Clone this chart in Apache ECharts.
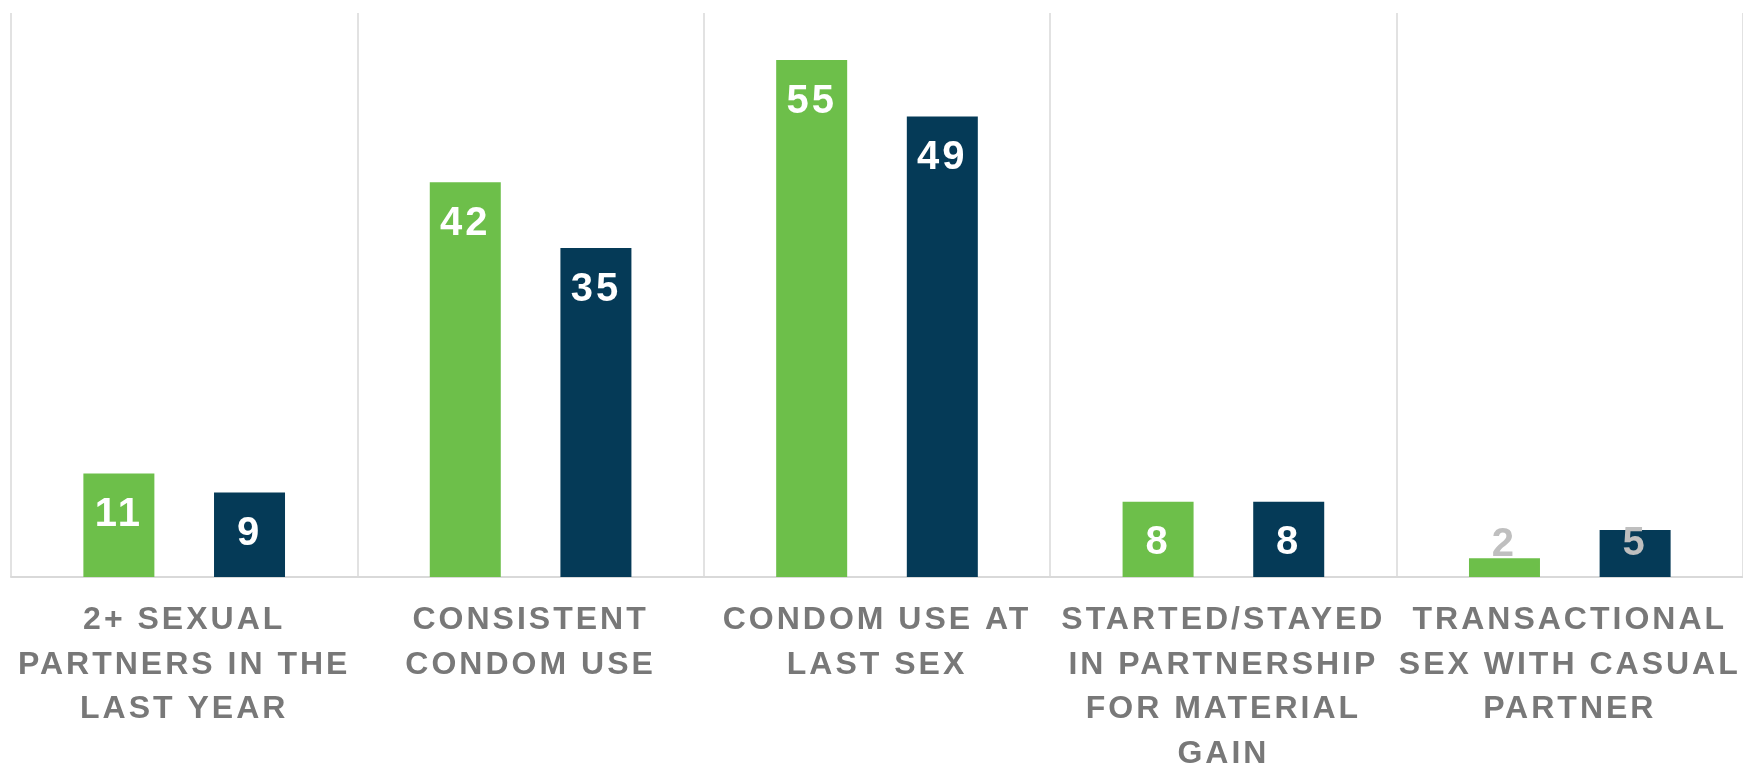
<!DOCTYPE html>
<html>
<head>
<meta charset="utf-8">
<script src="https://cdn.jsdelivr.net/npm/echarts@6/dist/echarts.min.js"></script>
<style>
  html, body { margin: 0; padding: 0; background: #ffffff; }
  #chart { width: 1743px; height: 764px; }
</style>
</head>
<body>
<div id="chart"></div>
<script>
// ---- data ----
const categories = [
  '2+ SEXUAL\nPARTNERS IN THE\nLAST YEAR',
  'CONSISTENT\nCONDOM USE',
  'CONDOM USE AT\nLAST SEX',
  'STARTED/STAYED\nIN PARTNERSHIP\nFOR MATERIAL\nGAIN',
  'TRANSACTIONAL\nSEX WITH CASUAL\nPARTNER'
];
const seriesNames = ['Series 1', 'Series 2'];
const seriesA = [11, 42, 55, 8, 2];
const seriesB = [9, 35, 49, 8, 5];

// letter spacing for canvas text (matches the tracked-out lettering of the reference)
(function () {
  const P = CanvasRenderingContext2D.prototype;
  const fill = P.fillText, measure = P.measureText;
  P.fillText = function () { this.letterSpacing = '3px'; return fill.apply(this, arguments); };
  P.measureText = function () { this.letterSpacing = '3px'; return measure.apply(this, arguments); };
})();

const GREEN = '#6dbf4a';
const NAVY = '#053a57';

function buildData(values, isFirst) {
  return values.map(function (v) {
    if (v < 6) {
      return {
        value: v,
        label: isFirst
          ? { position: 'top', distance: -8, color: '#bfbfbf' }
          : { position: 'insideTop', distance: -8, color: '#bfbfbf' }
      };
    }
    return v;
  });
}

const labelStyle = {
  show: true,
  position: 'insideTop',
  distance: 20,
  color: '#ffffff',
  fontFamily: 'Liberation Sans, Arial, sans-serif',
  fontWeight: 'bold',
  fontSize: 40
};

const chart = echarts.init(document.getElementById('chart'), null, { renderer: 'canvas' });
chart.setOption({
  animation: false,
  backgroundColor: '#ffffff',
  grid: { left: 11, right: 0, top: 13, bottom: 187, containLabel: false, outerBoundsMode: 'none' },
  xAxis: {
    type: 'category',
    data: categories,
    boundaryGap: true,
    axisLine: { show: true, lineStyle: { color: '#d9d9d9', width: 2 } },
    axisTick: { show: false },
    splitLine: { show: true, interval: 0, lineStyle: { color: '#d9d9d9', width: 1.5 } },
    axisLabel: {
      interval: 0,
      margin: 21,
      color: '#787878',
      fontFamily: 'Liberation Sans, Arial, sans-serif',
      fontWeight: 'bold',
      fontSize: 32,
      lineHeight: 44.5,
      align: 'center'
    }
  },
  yAxis: {
    type: 'value',
    min: 0,
    max: 60,
    show: false,
    splitLine: { show: false }
  },
  series: [
    {
      name: seriesNames[0],
      type: 'bar',
      data: buildData(seriesA, true),
      barWidth: 71,
      barGap: '84%',
      itemStyle: { color: GREEN },
      label: labelStyle
    },
    {
      name: seriesNames[1],
      type: 'bar',
      data: buildData(seriesB, false),
      barWidth: 71,
      barGap: '84%',
      itemStyle: { color: NAVY },
      label: labelStyle
    }
  ]
});
</script>
</body>
</html>
